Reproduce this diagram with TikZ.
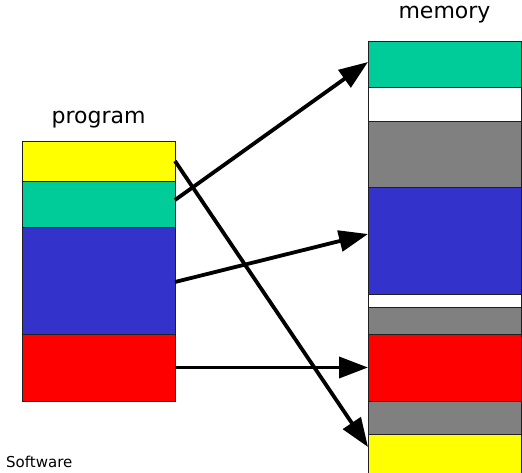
\documentclass[tikz,border=0pt]{standalone}
\usepackage{fontspec}
\setmainfont{DejaVu Sans}
\usetikzlibrary{arrows.meta,positioning,calc}
\definecolor{segteal}{HTML}{00CC99}
\definecolor{segblue}{HTML}{3333CC}
\definecolor{segred}{HTML}{FF0000}
\definecolor{segyellow}{HTML}{FFFF00}
\definecolor{seggrey}{HTML}{808080}
\definecolor{segedge}{HTML}{202020}
\tikzset{
  >={Triangle[length=29pt,width=21pt]},
  % segment
  seg/.style={rectangle,draw=segedge,line width=0.9pt,inner sep=0pt,outer sep=0pt,
              minimum width=153pt},
  lbl/.style={font=\fontsize{22}{24}\selectfont,inner sep=0pt},
  mapto/.style={->,draw=black,line width=3.8pt},
}
\begin{document}
\begin{tikzpicture}[x=1pt,y=-1pt]
  \useasboundingbox (0,0) rectangle (522,473);
  % program
  \node[lbl] (plbl) at (98.5,120) {program};
  \node[seg,fill=segyellow,minimum height=40pt] (pyel) at (98.5,161) {};
  \node[seg,fill=segteal,minimum height=46pt] (pteal) at (98.5,204) {};
  \node[seg,fill=segblue,minimum height=107pt] (pblue) at (98.5,280.5) {};
  \node[seg,fill=segred,minimum height=67pt] (pred) at (98.5,367.5) {};
  % memory
  \node[lbl] (mlbl) at (444.5,15) {memory};
  \node[seg,fill=segteal,minimum height=46pt] (mteal) at (444.5,64) {};
  \node[seg,fill=white,minimum height=34pt] (mfree) at (444.5,104) {};
  \node[seg,fill=seggrey,minimum height=66pt] (mgrey) at (444.5,154) {};
  \node[seg,fill=segblue,minimum height=107pt] (mblue) at (444.5,240.5) {};
  \node[seg,fill=white,minimum height=13pt] (mfreeb) at (444.5,300.5) {};
  \node[seg,fill=seggrey,minimum height=27pt] (mgreyb) at (444.5,320.5) {};
  \node[seg,fill=segred,minimum height=67pt] (mred) at (444.5,367.5) {};
  \node[seg,fill=seggrey,minimum height=33pt] (mgreyc) at (444.5,417.5) {};
  \node[seg,fill=segyellow,minimum height=40pt] (myel) at (444.5,454) {};
  % mapping
  \draw[mapto] ([yshift=4pt]pteal.east) -- ([yshift=2pt]mteal.west);
  \draw[mapto] (pyel.east) -- ([yshift=7pt]myel.west);
  \draw[mapto] ([yshift=-1.5pt]pblue.east) -- ([yshift=6.5pt]mblue.west);
  \draw[mapto] (pred.east) -- (mred.west);
  \node[font=\fontsize{15}{17}\selectfont,anchor=west,inner sep=0pt] (foot) at (6,462) {Software};
\end{tikzpicture}
\end{document}
